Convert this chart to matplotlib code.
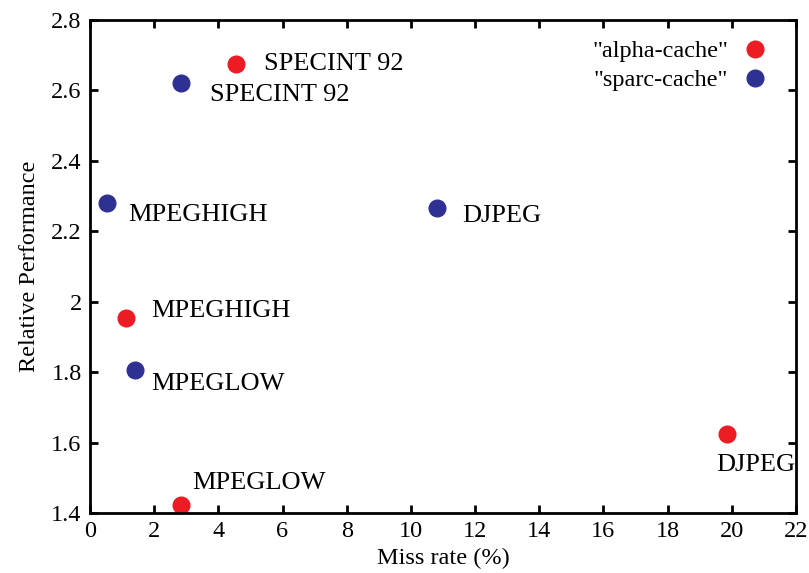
import matplotlib
matplotlib.use("Agg")
import matplotlib.pyplot as plt
from matplotlib.ticker import FuncFormatter

plt.rcParams['font.family'] = ['Liberation Serif', 'DejaVu Serif']

benchmarks = ["SPECINT 92", "MPEGHIGH", "MPEGLOW", "DJPEG"]
alpha_miss = [4.55, 1.12, 2.83, 19.84]
alpha_perf = [2.675, 1.955, 1.422, 1.624]
sparc_miss = [2.83, 0.53, 1.40, 10.81]
sparc_perf = [2.621, 2.280, 1.806, 2.266]

# label offsets (pixels) per point
alpha_off = [(28, 0), (25, 7), (11, 22), (-10, -31)]
sparc_off = [(29, -12), (21, -12), (16, -14), (25, -8)]

red = '#ed1c24'
blue = '#2e3192'

fig = plt.figure(figsize=(8.09, 5.73), dpi=100)
ax = fig.add_axes([90/809, 1-513/573, (796-90)/809, (513-20)/573])

ax.plot(alpha_miss, alpha_perf, 'o', color=red, markersize=12, label='"alpha-cache"', clip_on=False)
ax.plot(sparc_miss, sparc_perf, 'o', color=blue, markersize=12, label='"sparc-cache"', clip_on=False)

fs = 17.5
lfs = 19
for name, x, y, off in zip(benchmarks, alpha_miss, alpha_perf, alpha_off):
    ax.annotate(name, (x, y), xytext=(off[0]*0.72, off[1]*0.72), textcoords='offset points',
                ha='left', va='center', fontsize=lfs)
for name, x, y, off in zip(benchmarks, sparc_miss, sparc_perf, sparc_off):
    ax.annotate(name, (x, y), xytext=(off[0]*0.72, off[1]*0.72), textcoords='offset points',
                ha='left', va='center', fontsize=lfs)

ax.set_xlim(0, 22)
ax.set_ylim(1.4, 2.8)
ax.set_xticks(range(0, 23, 2))
ax.set_yticks([1.4, 1.6, 1.8, 2.0, 2.2, 2.4, 2.6, 2.8])
ax.yaxis.set_major_formatter(FuncFormatter(lambda v, p: '%g' % round(v, 2)))
ax.tick_params(direction='in', top=True, right=True, length=6, width=2, labelsize=fs, pad=6)
for s in ax.spines.values():
    s.set_linewidth(2)

ax.set_xlabel('Miss rate (%)', fontsize=fs, labelpad=4)
ax.set_ylabel('Relative Performance', fontsize=fs, labelpad=8)

leg = ax.legend(loc='upper right', markerfirst=False, frameon=False, fontsize=fs,
                handlelength=0.8, handletextpad=0.71, labelspacing=0.3,
                borderaxespad=0.0, borderpad=0.0,
                bbox_to_anchor=((764.7-90)/706, (513-40)/493))

fig.savefig('out.png', dpi=100)
